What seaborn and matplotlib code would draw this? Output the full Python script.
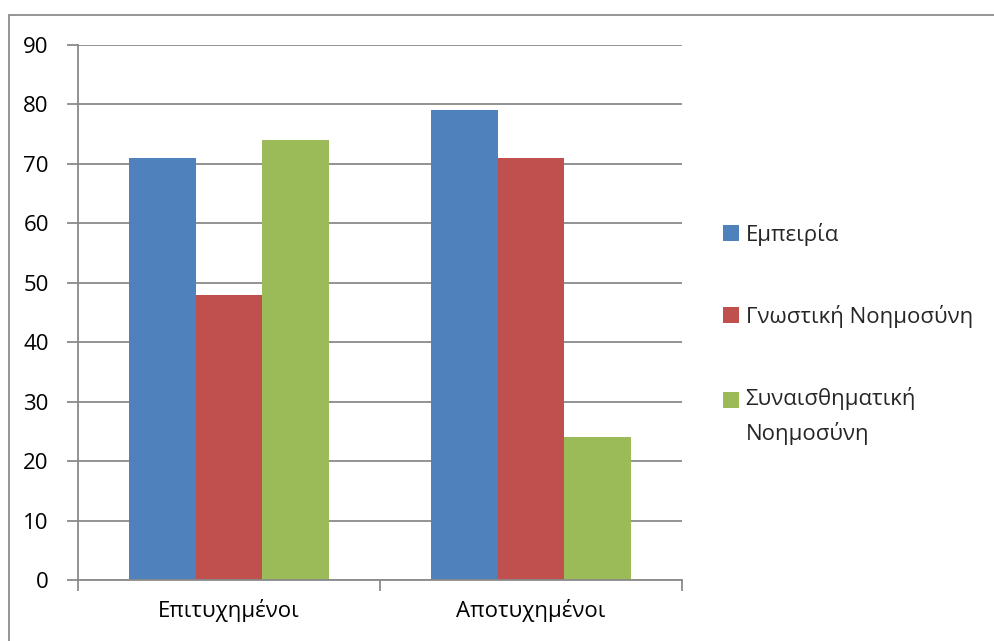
import matplotlib
matplotlib.use("Agg")
import matplotlib.pyplot as plt
from matplotlib.patches import Rectangle, Patch
from matplotlib.legend_handler import HandlerPatch
from matplotlib.ticker import FixedLocator, NullFormatter
import seaborn as sns
import pandas as pd

# Data
groups = ["Επιτυχημένοι", "Αποτυχημένοι"]
series = ["Εμπειρία", "Γνωστική Νοημοσύνη", "Συναισθηματική Νοημοσύνη"]
legend_labels = ["Εμπειρία", "Γνωστική Νοημοσύνη", "Συναισθηματική\nΝοημοσύνη"]
values_experience = [71, 79]
values_cognitive = [48, 71]
values_emotional = [74, 24]
yticks = [0, 10, 20, 30, 40, 50, 60, 70, 80, 90]
colors = ["#4F81BD", "#C0504D", "#9BBB59"]

df = pd.DataFrame({
    "group": groups * 3,
    "series": [series[0]] * 2 + [series[1]] * 2 + [series[2]] * 2,
    "value": values_experience + values_cognitive + values_emotional,
})

sns.set_theme(style="white")
plt.rcParams["font.family"] = ["Open Sans", "DejaVu Sans"]

FS = 16
LINE_SPACING = 1.64
W, H = 995, 641
fig = plt.figure(figsize=(W / 100, H / 100), dpi=100)
ax = fig.add_axes([78 / W, (H - 580) / H, (682 - 78) / W, (580 - 45) / H])

sns.barplot(data=df, x="group", y="value", hue="series", order=groups,
            hue_order=series, palette=colors, width=0.664, gap=0,
            saturation=1, ax=ax, legend=False, edgecolor="none")

grid_c = "#8A8A8A"
ax.set_xlim(-0.5, 1.5)
ax.set_ylim(0, 90)
ax.set_yticks(yticks)
ax.set_yticklabels([str(t) for t in yticks])
ax.yaxis.grid(True, color=grid_c, lw=1.3)
ax.set_axisbelow(True)
ax.set_xlabel("")
ax.set_ylabel("")

for s in ["top", "right"]:
    ax.spines[s].set_visible(False)
for s in ["left", "bottom"]:
    ax.spines[s].set_color(grid_c)
    ax.spines[s].set_linewidth(1.3)

ax.tick_params(axis="y", length=8, width=1.3, color=grid_c, left=True,
               labelsize=FS, pad=13, labelcolor="black")
ax.tick_params(axis="x", which="major", length=0, labelsize=FS, pad=14,
               labelcolor="black")
ax.xaxis.set_minor_locator(FixedLocator([-0.5, 0.5, 1.5]))
ax.xaxis.set_minor_formatter(NullFormatter())
ax.tick_params(axis="x", which="minor", length=8, width=1.3, color=grid_c,
               bottom=True)


def top_aligned_square(legend, orig_handle, xdescent, ydescent, width,
                       height, fontsize):
    # keep the swatch level with the first line of a two-line label
    shift = 0.5 * LINE_SPACING * fontsize * 0.9
    return Rectangle((-xdescent, -ydescent + shift), width, height)


handles = [Patch(facecolor=c, edgecolor="none") for c in colors]
handler_map = {handles[2]: HandlerPatch(patch_func=top_aligned_square)}
leg = fig.legend(handles, legend_labels, loc="upper left",
                 bbox_to_anchor=(714 / W, 1 - 214 / H), frameon=False,
                 fontsize=FS, handlelength=0.72, handleheight=0.72,
                 handletextpad=0.3, labelspacing=2.66, borderaxespad=0,
                 handler_map=handler_map)
leg.get_texts()[2].set_linespacing(LINE_SPACING)

# Chart frame
fig.patches.append(Rectangle((9 / W, -0.05), 1.0, 1 - 15 / H + 0.05,
                             transform=fig.transFigure, fill=False,
                             edgecolor="#8C8C8C", lw=1.3))

fig.savefig("out.png", dpi=100, facecolor="white")
